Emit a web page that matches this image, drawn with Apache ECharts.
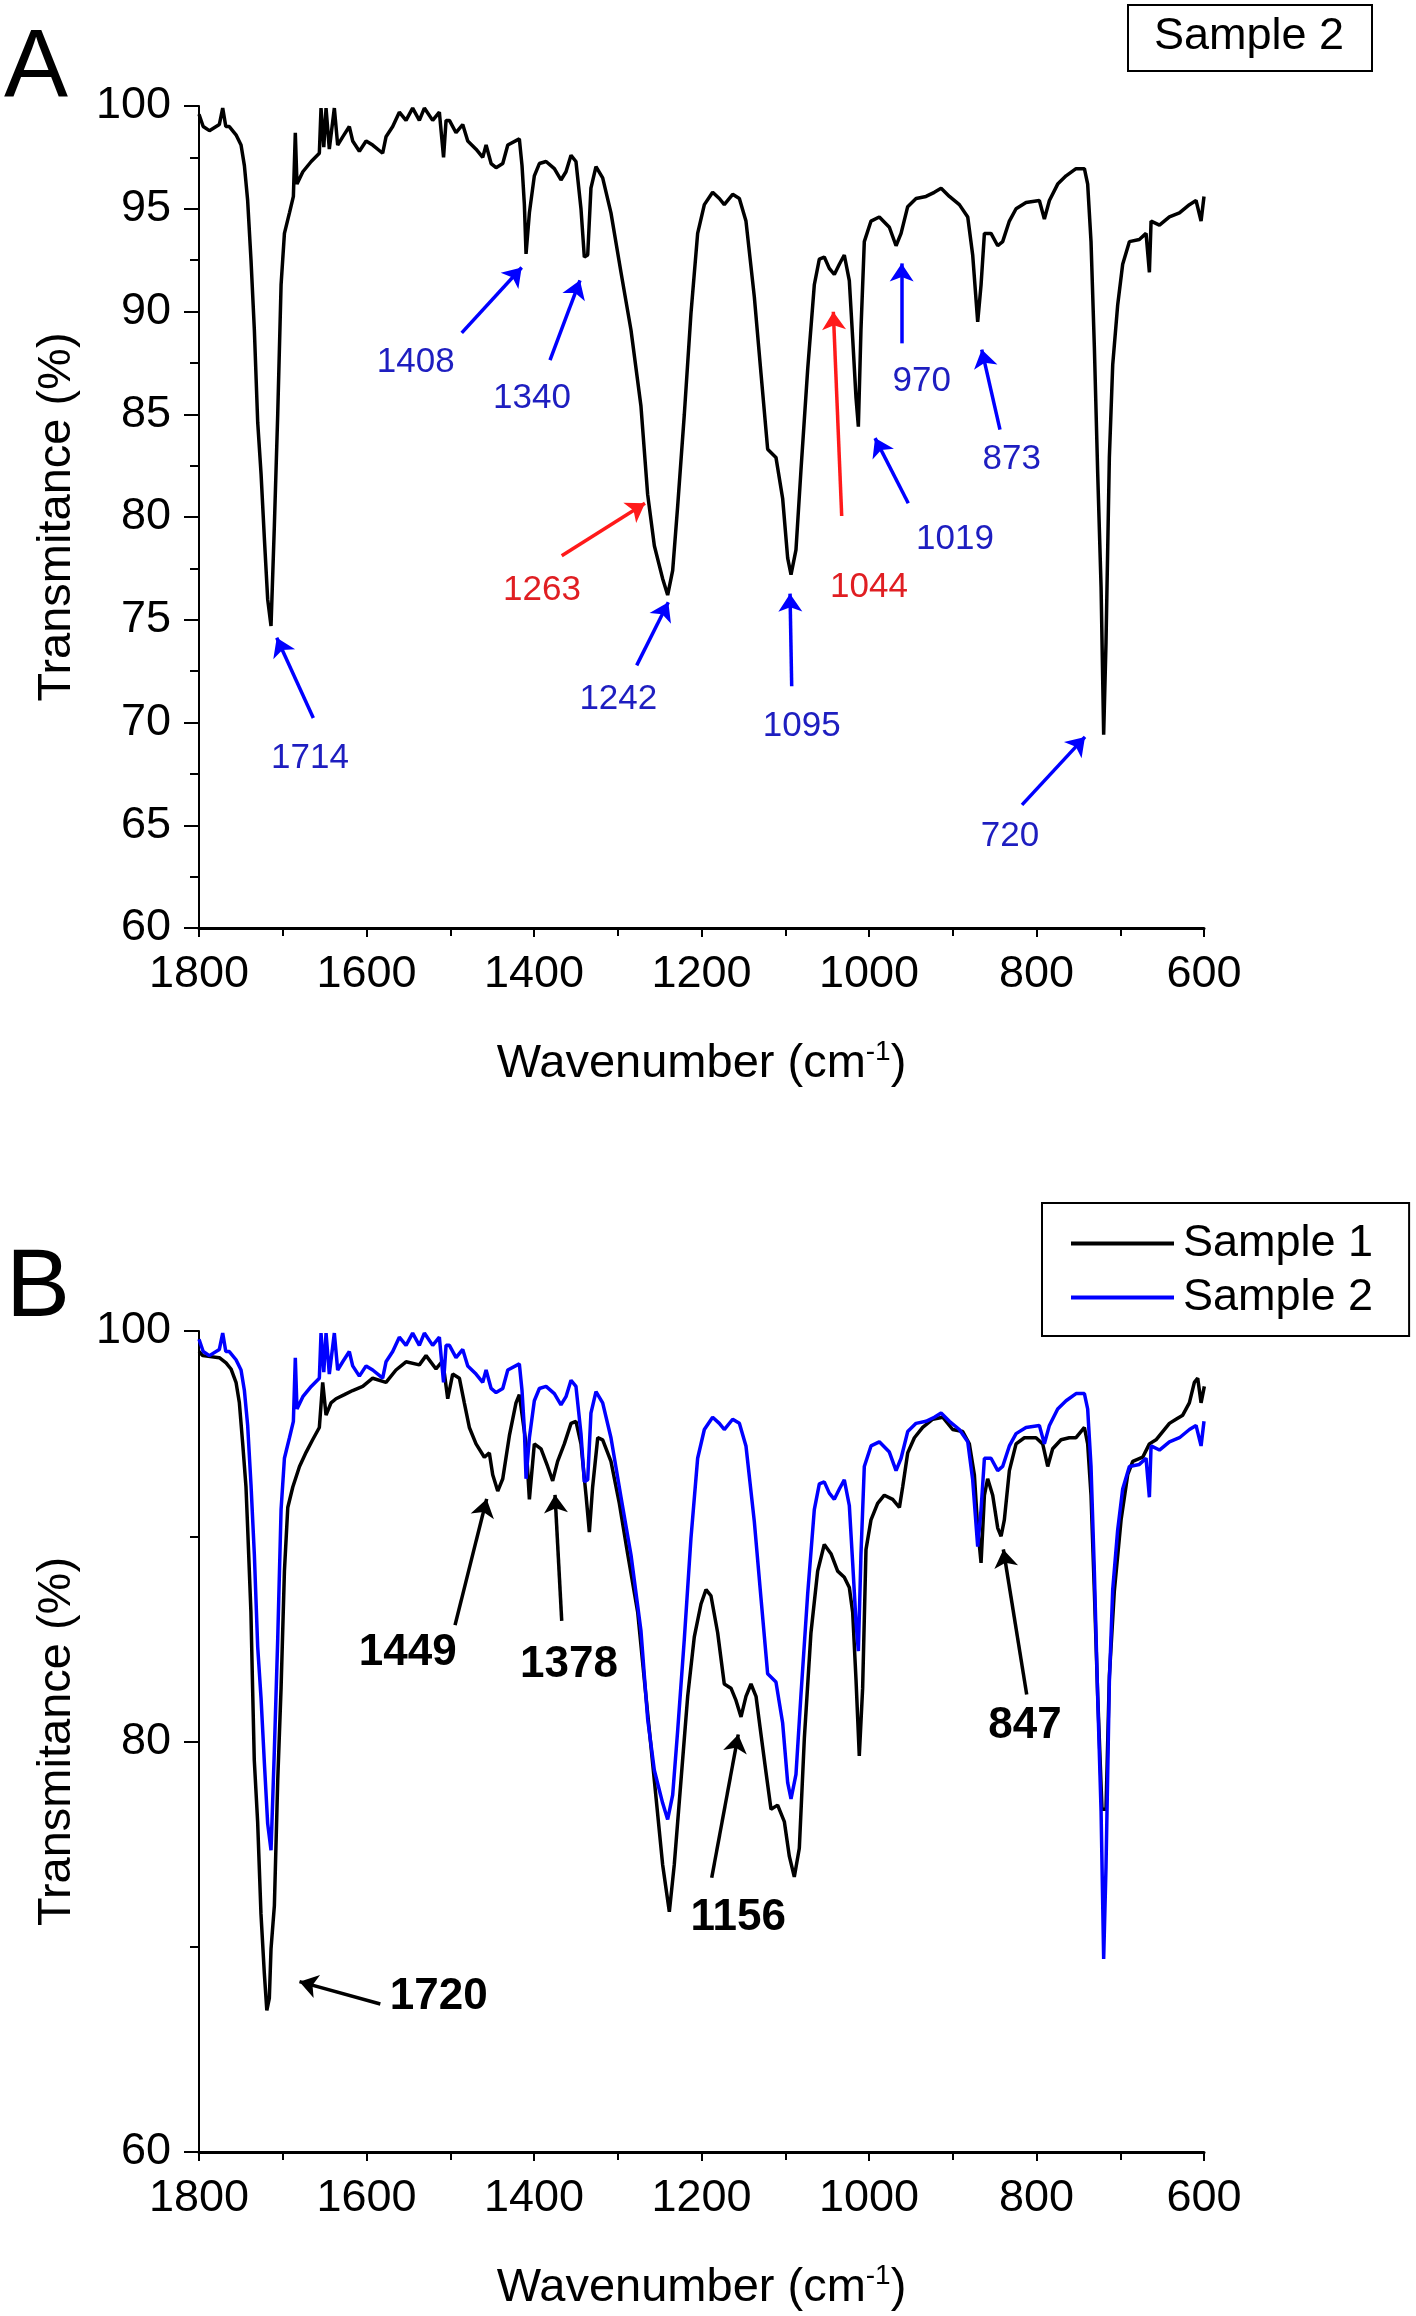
<!DOCTYPE html>
<html>
<head>
<meta charset="utf-8">
<script src="https://cdn.jsdelivr.net/npm/echarts@6/dist/echarts.min.js"></script>
<style>
html,body{margin:0;padding:0;background:#fff;}
#chart{width:1416px;height:2316px;}
</style>
</head>
<body>
<div id="chart"></div>
<script>
// ---------- DATA ----------
const xRange = [600, 1800];          // wavenumber (cm-1)
const xStep = 200;
const yRange = [60, 100];            // transmittance (%)
const yStepA = 5;
const yStepB = 20;

// Sample 2 spectrum [wavenumber, transmittance]
const sample2 = [
[1800,99.6],[1795,99.0],[1787.6,98.8],[1775.7,99.1],[1771.7,99.9],[1768,99.0],[1763.8,99.0],[1755.8,98.6],
[1749.8,98.1],[1745.8,97.1],[1741.9,95.4],[1737.9,92.5],[1733.9,89.1],[1729.9,84.6],[1725.9,82.1],[1722,79.0],
[1718,76.0],[1714,74.7],[1710,79.6],[1706,85.0],[1702,91.3],[1698,93.8],[1692,94.8],[1687.3,95.6],[1685,98.7],
[1683,96.2],[1676,96.8],[1666,97.3],[1656.3,97.7],[1654.3,99.9],[1651,98.0],[1648.3,99.9],[1644.4,97.9],
[1638.4,99.9],[1634.4,98.1],[1628.4,98.5],[1620.5,99.0],[1616.5,98.3],[1608.5,97.8],[1600.5,98.3],[1592.6,98.1],
[1580.7,97.7],[1576.7,98.5],[1568.7,99.0],[1560.8,99.7],[1552.8,99.3],[1544.9,99.9],[1536.9,99.3],[1530.9,99.9],
[1521,99.3],[1513,99.7],[1508,97.5],[1505,99.3],[1501,99.3],[1493.1,98.7],[1485.1,99.1],[1479.1,98.3],
[1469.2,97.9],[1461.2,97.5],[1457.2,98.1],[1451.2,97.2],[1445.3,97.0],[1437.3,97.2],[1431.3,98.1],[1417.5,98.4],
[1414.3,97.1],[1411.5,95.2],[1409.5,92.8],[1405.5,94.8],[1399.6,96.6],[1393.6,97.2],[1385.6,97.3],[1375.7,96.95],
[1367.8,96.4],[1361.8,96.8],[1355.8,97.6],[1349.9,97.3],[1343.9,95.0],[1339.9,92.65],[1335.9,92.75],[1332,96.0],
[1326,97.05],[1318,96.5],[1308.1,94.8],[1296.1,91.9],[1284.2,89.1],[1272.3,85.4],[1264.3,81.1],[1256.3,78.6],
[1246.4,77.0],[1240.4,76.2],[1234.4,77.4],[1228.5,80.5],[1220.5,85.0],[1212.6,89.9],[1204.6,93.8],[1196.6,95.2],
[1186.7,95.8],[1178.7,95.5],[1172.8,95.2],[1162.8,95.7],[1154.8,95.5],[1146.9,94.4],[1136.9,90.7],[1129,87.0],
[1121,83.3],[1111.1,82.9],[1103.1,80.9],[1097.1,78.0],[1093.1,77.2],[1087.2,78.4],[1081.2,82.3],[1073.2,87.2],
[1065.3,91.3],[1059.3,92.55],[1053.4,92.65],[1047.4,92.1],[1041.4,91.8],[1035.4,92.3],[1029.5,92.75],[1023.5,91.5],
[1019.5,88.7],[1015.5,85.8],[1012.7,84.4],[1009.6,89.1],[1005.6,93.4],[997.6,94.4],[987.7,94.6],[975.7,94.1],
[967.7,93.2],[961.7,93.8],[953.8,95.1],[943.8,95.5],[931.9,95.6],[922,95.8],[913.9,96.0],[904,95.6],[892.1,95.2],
[882.1,94.6],[876.2,92.75],[870.2,89.5],[866.2,91.3],[862.2,93.8],[854.3,93.8],[846.3,93.2],[840.4,93.4],
[832.4,94.4],[824.4,95.0],[812.5,95.3],[796.6,95.4],[790.6,94.5],[784.6,95.4],[774.7,96.2],[764.7,96.6],
[752.8,96.95],[742.8,96.95],[738.9,96.2],[734.9,93.4],[730.9,88.25],[726.9,82.1],[722.9,76.6],[719.8,69.4],
[717,73.9],[713,82.9],[709,87.4],[703.1,90.3],[697.1,92.3],[689.1,93.4],[677.2,93.5],[669.2,93.8],[665.2,91.9],
[663.2,94.4],[653.2,94.2],[641.3,94.6],[629.3,94.8],[617.4,95.2],[609.5,95.4],[603.5,94.4],[600,95.6]
];

// Sample 1 spectrum [wavenumber, transmittance]
const sample1 = [
[1800,99.0],[1795.6,98.8],[1775.7,98.7],[1767.7,98.45],[1761.8,98.15],[1755.8,97.5],[1751.8,96.5],[1747.8,94.5],
[1743.9,92.4],[1741.9,90.4],[1738,86.3],[1736,82.6],[1734,79.1],[1730,76.1],[1726,71.6],[1722,68.7],[1719,66.9],
[1716,67.5],[1714,69.9],[1710,72.0],[1706,78.1],[1702,82.6],[1698,88.3],[1694,91.4],[1688,92.4],[1680,93.4],
[1672,94.1],[1664.3,94.7],[1656.3,95.3],[1652.3,97.5],[1648.3,95.9],[1642.4,96.5],[1636.4,96.7],[1626.4,96.9],
[1616.5,97.1],[1604.5,97.3],[1592.6,97.7],[1576.7,97.5],[1564.8,98.1],[1552.8,98.5],[1536.9,98.35],[1528.9,98.8],
[1517,98.15],[1509,98.55],[1503,96.7],[1497.1,97.9],[1489.1,97.7],[1483.2,96.5],[1477.2,95.3],[1469.2,94.5],
[1459.3,93.85],[1453.3,94.06],[1449.3,93.0],[1443.3,92.2],[1437.3,92.8],[1429.4,94.9],[1421.5,96.5],[1417.5,96.9],
[1413.5,95.7],[1409.5,94.5],[1405.5,91.8],[1399.6,94.5],[1391.6,94.26],[1383.7,93.4],[1377.7,92.7],[1371.8,93.65],
[1363.8,94.5],[1355.8,95.5],[1349.9,95.6],[1343.9,94.5],[1337.9,92.0],[1333.9,90.2],[1330,92.4],[1323.9,94.8],
[1318,94.7],[1308.1,93.65],[1298.1,91.6],[1288.2,89.15],[1276.2,86.3],[1266.3,82.2],[1256.3,78.1],[1246.4,74.0],
[1238.4,71.7],[1232.5,74.0],[1224.5,78.1],[1216.5,82.2],[1208.6,85.1],[1200.6,86.7],[1194.6,87.4],[1188.7,87.1],
[1180.7,85.3],[1172.8,82.8],[1164.8,82.6],[1158.8,82.0],[1152.8,81.2],[1146.9,82.2],[1140.9,82.8],[1134.9,82.2],
[1129,80.35],[1123,78.5],[1117,76.7],[1109.1,76.9],[1101.1,76.1],[1095.1,74.4],[1089.2,73.4],[1083.2,74.8],
[1077.2,80.15],[1069.3,85.3],[1061.3,88.3],[1053.4,89.6],[1045.4,89.15],[1037.4,88.3],[1029.5,88.0],[1023.5,87.5],
[1019.5,86.3],[1015.5,83.0],[1011.6,79.3],[1007.6,82.6],[1003.6,89.35],[997.6,90.8],[989.7,91.6],[981.7,92.0],
[971.7,91.8],[963.7,91.4],[959.8,92.4],[953.8,94.06],[945.8,94.8],[935.9,95.3],[923.9,95.7],[912,95.8],
[900.1,95.2],[888.1,95.1],[880.2,94.5],[874.2,93.0],[870.2,90.4],[866.2,88.7],[862.2,92.0],[858.3,92.8],
[852.3,92.0],[846.3,90.4],[842.3,90.0],[838.4,90.8],[832.4,93.2],[824.4,94.5],[814.5,94.8],[800.6,94.8],
[792.6,94.5],[786.6,93.4],[780.7,94.26],[770.7,94.7],[760.8,94.8],[752.8,94.8],[742.8,95.3],[738.9,94.5],
[734.9,92.0],[730.9,87.3],[726.9,82.2],[721.8,76.7],[717,76.7],[713,83.2],[707.1,87.3],[699,90.8],[691.1,93.0],
[685.1,93.65],[673.2,93.85],[665.2,94.5],[657.3,94.7],[649.3,95.1],[641.3,95.5],[633.4,95.7],[625.4,95.9],
[617.5,96.5],[611.5,97.5],[607.5,97.7],[603.5,96.5],[599.6,97.3]
];

// Peak labels: [text, kind]
const peakLabelsA = [['1714','b'],['1408','b'],['1340','b'],['1263','r'],['1242','b'],['1095','b'],['1044','r'],['1019','b'],['970','b'],['873','b'],['720','b']];
const peakLabelsB = ['1720','1449','1378','1156','847'];

// annotation anchors in data coordinates: label point, arrow tail, arrow head
const labelPosA = [[1667.5,68.27],[1541.3,87.53],[1402.4,85.79],[1390.4,76.45],[1299.3,71.14],[1080.4,69.81],[1000,76.59],[897.3,78.93],[937.1,86.61],[829.6,82.82],[831.6,64.48]];
const arrowTailA = [[1663.5,70.22],[1486.3,88.96],[1380.9,87.63],[1366.9,78.11],[1277.4,72.78],[1092.3,71.76],[1032.6,80.05],[953.1,80.67],[961,88.45],[843.6,84.25],[817.3,65.99]];
const arrowHeadA = [[1707.2,74.12],[1414.7,92.14],[1345.1,91.52],[1267.5,80.67],[1239.6,75.85],[1094.3,76.27],[1042.6,89.99],[992.8,83.84],[961,92.34],[865.4,88.15],[742.1,69.30]];
const labelPosB = [[1513.8,67.57],[1550.8,84.34],[1358.2,83.73],[1156.1,71.42],[813.7,80.75]];
const arrowTailB = [[1583.5,67.21],[1494.3,85.67],[1366.9,85.88],[1187.8,73.36],[811.7,82.29]];
const arrowHeadB = [[1680,68.30],[1456.5,91.82],[1374.9,92.02],[1156.1,80.34],[839.6,89.36]];

// ---------- STYLE ----------
const FONT = "'Liberation Sans', Arial, sans-serif";
const BLUE_TXT = '#1e1ec0', BLUE = '#0000ff', RED = '#ff1a1a', RED_TXT = '#e01e22';

function xAxisDef(gi){
  return {
    gridIndex: gi, type:'value', min:xRange[0], max:xRange[1], interval:xStep, inverse:true,
    axisLine:{show:true, onZero:false, lineStyle:{color:'#000', width:3}},
    axisTick:{show:true, length:9, lineStyle:{color:'#000', width:2}},
    minorTick:{show:true, splitNumber:2, length:8, lineStyle:{color:'#000', width:2}},
    splitLine:{show:false},
    axisLabel:{fontSize:45, color:'#000', margin:24, fontFamily:FONT, formatter:v=>String(v)},
    name:'Wavenumber (cm{sup|-1})', nameLocation:'middle', nameGap:110,
    nameTextStyle:{fontSize:47, color:'#000', fontFamily:FONT, lineHeight:52,
      rich:{sup:{fontSize:28, color:'#000', fontFamily:FONT, verticalAlign:'top', lineHeight:28}}}
  };
}
function yAxisDef(gi, step){
  return {
    gridIndex: gi, type:'value', min:yRange[0], max:yRange[1], interval:step,
    axisLine:{show:true, onZero:false, lineStyle:{color:'#000', width:2}},
    axisTick:{show:true, length:15, lineStyle:{color:'#000', width:2}},
    minorTick:{show:true, splitNumber:2, length:9, lineStyle:{color:'#000', width:2}},
    splitLine:{show:false},
    axisLabel:{fontSize:45, color:'#000', margin:28, fontFamily:FONT, formatter:v=>String(v)},
    name:'Transmitance (%)', nameLocation:'middle', nameGap:118,
    nameTextStyle:{fontSize:47, color:'#000', fontFamily:FONT}
  };
}

function arrowLines(tails, heads, colors){
  return tails.map((t,i)=>[
    {coord:t, symbol:'none', lineStyle:{color:colors[i], width:3.5, type:'solid'}},
    {coord:heads[i], symbol:'arrow', symbolSize:18}
  ]);
}

const colorsA = peakLabelsA.map(p=> p[1]==='r' ? RED : BLUE);
const txtColorsA = peakLabelsA.map(p=> p[1]==='r' ? RED_TXT : BLUE_TXT);

const option = {
  animation:false,
  backgroundColor:'#fff',
  grid:[
    {left:199, top:106, width:1005, height:822},
    {left:199, top:1331, width:1005, height:821}
  ],
  xAxis:[xAxisDef(0), xAxisDef(1)],
  yAxis:[yAxisDef(0, yStepA), yAxisDef(1, yStepB)],
  legend:{
    data:[{name:'Sample 1'},{name:'Sample 2'}],
    orient:'vertical', left:1042, top:1203,
    borderColor:'#000', borderWidth:2, padding:[18,36,16,29],
    itemWidth:103, itemHeight:4, itemGap:9, icon:'rect', selectedMode:false,
    textStyle:{fontSize:45, color:'#000', fontFamily:FONT, padding:[0,0,0,4]}
  },
  graphic:[
    {type:'text', left:4, top:22, style:{text:'A', fontSize:96, fill:'#000', fontFamily:FONT}},
    {type:'text', left:6, top:1242, style:{text:'B', fontSize:96, fill:'#000', fontFamily:FONT}},
    {type:'rect', left:1127, top:4, shape:{width:244, height:66}, style:{fill:'#fff', stroke:'#000', lineWidth:2}},
    {type:'text', x:1249, y:37, style:{text:'Sample 2', fontSize:45, fill:'#000', fontFamily:FONT, align:'center', verticalAlign:'middle'}}
  ],
  series:[
    {
      name:'Sample 2 (A)', type:'line', xAxisIndex:0, yAxisIndex:0, data:sample2,
      showSymbol:false, lineStyle:{color:'#000', width:3.5}, itemStyle:{color:'#000'},
      markLine:{silent:true, animation:false, label:{show:false}, symbol:['none','arrow'],
        data: arrowLines(arrowTailA, arrowHeadA, colorsA)}
    },
    {
      name:'Sample 1', type:'line', xAxisIndex:1, yAxisIndex:1, data:sample1,
      showSymbol:false, lineStyle:{color:'#000', width:3.5}, itemStyle:{color:'#000'},
      markLine:{silent:true, animation:false, label:{show:false}, symbol:['none','arrow'],
        data: arrowLines(arrowTailB, arrowHeadB, arrowTailB.map(()=>'#000'))}
    },
    {
      name:'Sample 2', type:'line', xAxisIndex:1, yAxisIndex:1, data:sample2,
      showSymbol:false, lineStyle:{color:BLUE, width:3.5}, itemStyle:{color:BLUE}
    },
    {
      name:'labelsA', type:'scatter', xAxisIndex:0, yAxisIndex:0, symbolSize:1, silent:true,
      itemStyle:{color:'rgba(0,0,0,0)', opacity:1},
      data: peakLabelsA.map((p,i)=>({name:p[0], value:labelPosA[i],
        label:{color:txtColorsA[i]}})),
      label:{show:true, position:'inside', formatter:p=>p.name, fontSize:35, fontFamily:FONT, align:'center', verticalAlign:'middle', opacity:1}
    },
    {
      name:'labelsB', type:'scatter', xAxisIndex:1, yAxisIndex:1, symbolSize:1, silent:true,
      itemStyle:{color:'rgba(0,0,0,0)', opacity:1},
      data: peakLabelsB.map((p,i)=>({name:p, value:labelPosB[i]})),
      label:{show:true, position:'inside', formatter:p=>p.name, fontSize:44, fontWeight:'bold', color:'#000', fontFamily:FONT, align:'center', verticalAlign:'middle', opacity:1}
    }
  ]
};

const chart = echarts.init(document.getElementById('chart'), null, {renderer:'canvas', width:1416, height:2316});
chart.setOption(option);
</script>
</body>
</html>
